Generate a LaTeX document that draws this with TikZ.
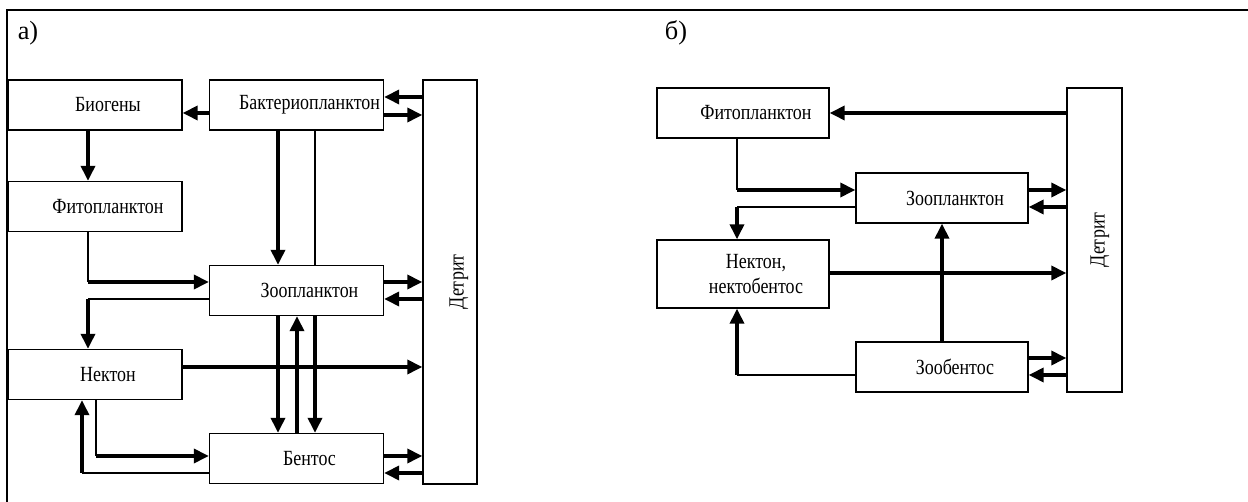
\documentclass[tikz,border=0pt]{standalone}
\usepackage{fontspec}
\setmainfont{Liberation Serif}[FakeStretch=0.83]
\newfontfamily\tagfont{Liberation Serif}
\usepackage{graphicx}
\usetikzlibrary{arrows.meta}
\begin{document}
\begin{tikzpicture}[x=0.02cm, y=-0.02cm, font=\fontsize{12.3}{14}\selectfont,
    box/.style={draw, line width=0.85pt, inner sep=0pt, minimum width=3.48cm, minimum height=1cm, execute at begin node=\hspace*{5.2mm}},
    det/.style={draw, line width=0.85pt, inner sep=0pt, minimum width=1.08cm},
    tag/.style={font=\tagfont\fontsize{15}{17}\selectfont},
    arr/.style={-{Triangle[length=8.5pt,width=8pt]}, line width=1.9pt},
    link/.style={line width=0.7pt}]

                \useasboundingbox (0,0) rectangle (1248,502);
                \draw[line width=1.1pt] (7,502) -- (7,10) -- (1248,10);

                \node[tag] at (28,33) (ta) {а)};
                \node[tag] at (676,33) (tb) {б)};

                \node[box] at (95,105) (bio) {Биогены};
                \node[box] at (296.5,105) (bact) {Бактериопланктон};
                \node[box] at (95,206.5) (fito) {Фитопланктон};
                \node[box] at (296.5,290.5) (zoo) {Зоопланктон};
                \node[box] at (95,374.5) (nek) {Нектон};
                \node[box] at (296.5,458.5) (bent) {Бентос};
                \node[det, minimum height=8.08cm] at (450,282) (detr) {\hspace*{10pt}\rotatebox{90}{Детрит}};

                \path[arr] (bact.west |- 0,113) edge (bio.east |- 0,113);
                \path[arr] (detr.west |- 0,97) edge (bact.east |- 0,97);
                \path[arr] (bact.east |- 0,115) edge (detr.west |- 0,115);
                \path[arr] (bio.south -| 88,0) edge (fito.north -| 88,0);
                \path[arr] (bact.south -| 278,0) edge (zoo.north -| 278,0);
                \path[link] (bact.south -| 315,0) edge (zoo.north -| 315,0);
                \path[arr] (zoo.east |- 0,282) edge (detr.west |- 0,282);
                \path[arr] (detr.west |- 0,299) edge (zoo.east |- 0,299);
                \path[arr] (nek.east |- 0,367) edge (detr.west |- 0,367);
                \path[arr] (zoo.south -| 278,0) edge (bent.north -| 278,0);
                \path[arr] (zoo.south -| 315,0) edge (bent.north -| 315,0);
                \path[arr] (bent.north -| 297,0) edge (zoo.south -| 297,0);
                \path[arr] (bent.east |- 0,456) edge (detr.west |- 0,456);
                \path[arr] (detr.west |- 0,473) edge (bent.east |- 0,473);

                \coordinate (fz) at (88,282);
                \coordinate (zn) at (88,299);
                \coordinate (nb) at (96,456);
                \coordinate (bn) at (82,473);
                \draw[link] (fito.south -| fz) -- (fz);
                \draw[arr] (fz) -- (zoo.west |- fz);
                \draw[link] (zoo.west |- zn) -- (zn);
                \draw[arr] (zn) -- (nek.north -| zn);
                \draw[link] (nek.south -| nb) -- (nb);
                \draw[arr] (nb) -- (bent.west |- nb);
                \draw[link] (bent.west |- bn) -- (bn);
                \draw[arr] (bn) -- (nek.south -| bn);

                \node[box, minimum width=3.44cm] at (743,113) (fitoB) {Фитопланктон};
                \node[box, minimum width=3.44cm] at (942,198) (zooB) {Зоопланктон};
                \node[box, minimum width=3.44cm, minimum height=1.36cm, align=center] at (743,274) (nekB) {Нектон,\\нектобентос};
                \node[box, minimum width=3.44cm] at (942,367) (zbent) {Зообентос};
                \node[det, minimum width=1.1cm, minimum height=6.08cm] at (1094.5,240) (detrB) {\hspace*{6pt}\rotatebox{90}{Детрит}};

                \path[arr] (detrB.west |- 0,113) edge (fitoB.east |- 0,113);
                \path[arr] (zooB.east |- 0,190) edge (detrB.west |- 0,190);
                \path[arr] (detrB.west |- 0,207) edge (zooB.east |- 0,207);
                \path[arr] (nekB.east |- 0,273) edge (detrB.west |- 0,273);
                \path[arr] (zbent.north -| 942,0) edge (zooB.south -| 942,0);
                \path[arr] (zbent.east |- 0,358) edge (detrB.west |- 0,358);
                \path[arr] (detrB.west |- 0,375) edge (zbent.east |- 0,375);

                \coordinate (fzB) at (737,190);
                \coordinate (znB) at (737,207);
                \coordinate (bnB) at (737,375);
                \draw[link] (fitoB.south -| fzB) -- (fzB);
                \draw[arr] (fzB) -- (zooB.west |- fzB);
                \draw[link] (zooB.west |- znB) -- (znB);
                \draw[arr] (znB) -- (nekB.north -| znB);
                \draw[link] (zbent.west |- bnB) -- (bnB);
                \draw[arr] (bnB) -- (nekB.south -| bnB);
            \end{tikzpicture}
\end{document}
